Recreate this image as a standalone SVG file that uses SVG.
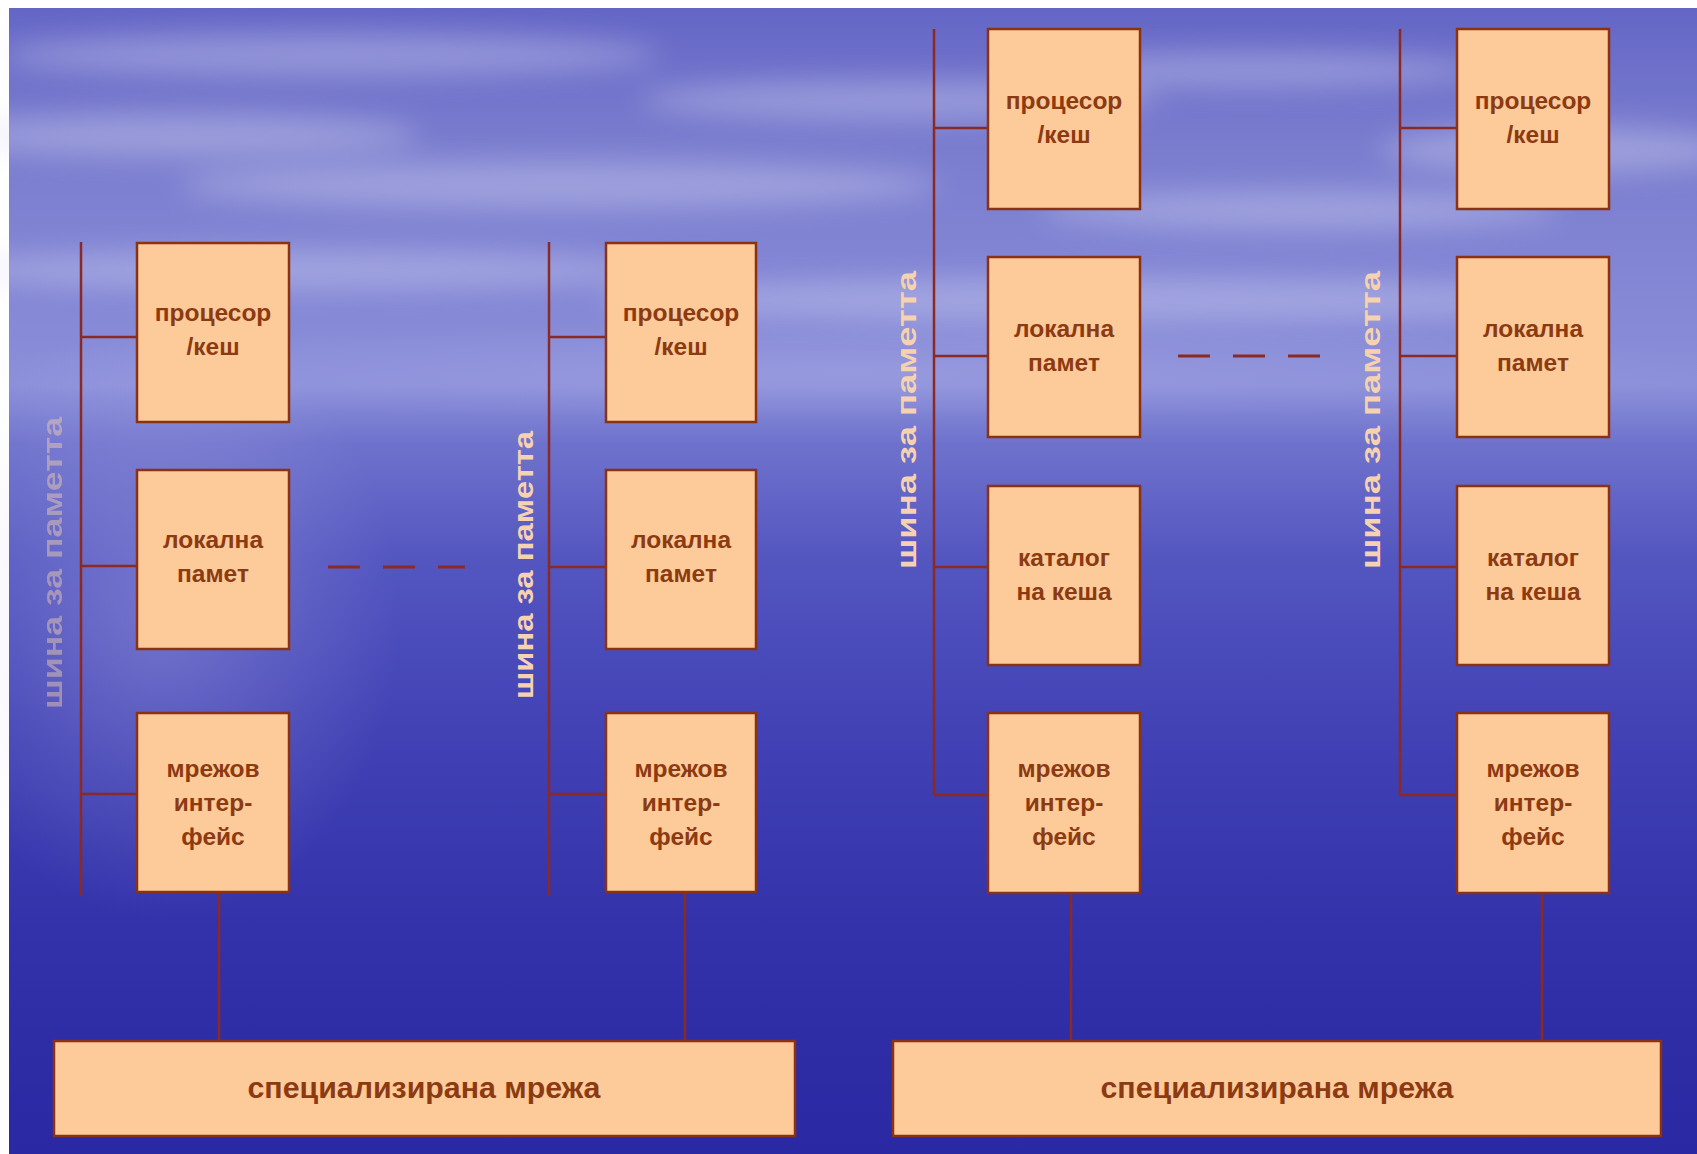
<svg xmlns="http://www.w3.org/2000/svg" width="1697" height="1154" viewBox="0 0 1697 1154">
<defs>
<linearGradient id="bg" x1="0" y1="0" x2="0" y2="1">
<stop offset="0" stop-color="#6466c6"/>
<stop offset="0.12" stop-color="#7a7dce"/>
<stop offset="0.27" stop-color="#8589d6"/>
<stop offset="0.33" stop-color="#8c90da"/>
<stop offset="0.38" stop-color="#6f72cc"/>
<stop offset="0.48" stop-color="#5456c0"/>
<stop offset="0.62" stop-color="#4343b6"/>
<stop offset="0.8" stop-color="#3332aa"/>
<stop offset="1" stop-color="#2a28a2"/>
</linearGradient>
<radialGradient id="glow" cx="0.5" cy="0.5" r="0.5">
<stop offset="0" stop-color="#c8c8f0" stop-opacity="0.3"/>
<stop offset="1" stop-color="#c8c8f0" stop-opacity="0"/>
</radialGradient>
<filter id="soft" x="-50%" y="-50%" width="200%" height="200%"><feGaussianBlur stdDeviation="14"/></filter>
<style>
.box{fill:#fdca9a;stroke:#8a3214;stroke-width:2.5}
.lbl{font-family:"Liberation Sans",Arial,sans-serif;font-weight:bold;font-size:24.5px;fill:#8c3a12;text-anchor:middle}
.net{font-family:"Liberation Sans",Arial,sans-serif;font-weight:bold;font-size:29px;fill:#8c3a12;text-anchor:middle}
.bus{font-family:"Liberation Sans",Arial,sans-serif;font-weight:bold;font-size:28px;fill:#f6d2b0;text-anchor:middle}
.ln{stroke:#8a2a22;stroke-width:2.5;fill:none}
.dash{stroke:#8a2a22;stroke-width:3;stroke-dasharray:32 23;fill:none}
</style>
</defs>
<rect x="0" y="0" width="1697" height="1154" fill="#ffffff"/>
<rect x="9" y="8" width="1688" height="1146" fill="url(#bg)"/>
<g filter="url(#soft)" fill="#dcdcf4" opacity="0.35">
<ellipse cx="330" cy="55" rx="330" ry="22"/>
<ellipse cx="180" cy="135" rx="240" ry="22"/>
<ellipse cx="560" cy="185" rx="380" ry="24"/>
<ellipse cx="900" cy="100" rx="260" ry="20"/>
<ellipse cx="1250" cy="70" rx="230" ry="18"/>
<ellipse cx="1560" cy="150" rx="180" ry="24"/>
<ellipse cx="1300" cy="210" rx="260" ry="20"/>
<ellipse cx="300" cy="270" rx="360" ry="20"/>
<ellipse cx="1100" cy="300" rx="500" ry="22"/>
</g>
<ellipse cx="160" cy="620" rx="240" ry="300" fill="url(#glow)"/>
<ellipse cx="850" cy="370" rx="900" ry="50" fill="url(#glow)" opacity="0.6"/>

<g id="connectors">
<path class="ln" d="M81 242V896M81 337H137M81 566H137M81 794H137M219 892V1041"/>
<path class="ln" d="M549 242V896M549 337H606M549 567H606M549 794H606M685 892V1041"/>
<path class="ln" d="M934 29V795M934 128H988M934 356H988M934 567H988M934 795H988M1071 893V1041"/>
<path class="ln" d="M1400 29V795M1400 128H1457M1400 356H1457M1400 567H1457M1400 795H1457M1542 893V1041"/>
<path class="dash" d="M328 567H465"/>
<path class="dash" d="M1178 356H1322"/>
</g>

<g id="bus-labels">
<text class="bus" opacity="0.45" transform="translate(62 563) rotate(-90)" textLength="292" lengthAdjust="spacingAndGlyphs">шина за паметта</text>
<text class="bus" transform="translate(533 565) rotate(-90)" textLength="268" lengthAdjust="spacingAndGlyphs">шина за паметта</text>
<text class="bus" transform="translate(916 420) rotate(-90)" textLength="298" lengthAdjust="spacingAndGlyphs">шина за паметта</text>
<text class="bus" transform="translate(1380 420) rotate(-90)" textLength="298" lengthAdjust="spacingAndGlyphs">шина за паметта</text>
</g>

<g id="g1-cpu"><rect class="box" x="137" y="243" width="152" height="179"/><text class="lbl" x="213" y="321">процесор</text><text class="lbl" x="213" y="355">/кеш</text></g>
<g id="g1-mem"><rect class="box" x="137" y="470" width="152" height="179"/><text class="lbl" x="213" y="548">локална</text><text class="lbl" x="213" y="582">памет</text></g>
<g id="g1-nic"><rect class="box" x="137" y="713" width="152" height="179"/><text class="lbl" x="213" y="777">мрежов</text><text class="lbl" x="213" y="811">интер-</text><text class="lbl" x="213" y="845">фейс</text></g>

<g id="g2-cpu"><rect class="box" x="606" y="243" width="150" height="179"/><text class="lbl" x="681" y="321">процесор</text><text class="lbl" x="681" y="355">/кеш</text></g>
<g id="g2-mem"><rect class="box" x="606" y="470" width="150" height="179"/><text class="lbl" x="681" y="548">локална</text><text class="lbl" x="681" y="582">памет</text></g>
<g id="g2-nic"><rect class="box" x="606" y="713" width="150" height="179"/><text class="lbl" x="681" y="777">мрежов</text><text class="lbl" x="681" y="811">интер-</text><text class="lbl" x="681" y="845">фейс</text></g>

<g id="g3-cpu"><rect class="box" x="988" y="29" width="152" height="180"/><text class="lbl" x="1064" y="109">процесор</text><text class="lbl" x="1064" y="143">/кеш</text></g>
<g id="g3-mem"><rect class="box" x="988" y="257" width="152" height="180"/><text class="lbl" x="1064" y="337">локална</text><text class="lbl" x="1064" y="371">памет</text></g>
<g id="g3-dir"><rect class="box" x="988" y="486" width="152" height="179"/><text class="lbl" x="1064" y="566">каталог</text><text class="lbl" x="1064" y="600">на кеша</text></g>
<g id="g3-nic"><rect class="box" x="988" y="713" width="152" height="180"/><text class="lbl" x="1064" y="777">мрежов</text><text class="lbl" x="1064" y="811">интер-</text><text class="lbl" x="1064" y="845">фейс</text></g>

<g id="g4-cpu"><rect class="box" x="1457" y="29" width="152" height="180"/><text class="lbl" x="1533" y="109">процесор</text><text class="lbl" x="1533" y="143">/кеш</text></g>
<g id="g4-mem"><rect class="box" x="1457" y="257" width="152" height="180"/><text class="lbl" x="1533" y="337">локална</text><text class="lbl" x="1533" y="371">памет</text></g>
<g id="g4-dir"><rect class="box" x="1457" y="486" width="152" height="179"/><text class="lbl" x="1533" y="566">каталог</text><text class="lbl" x="1533" y="600">на кеша</text></g>
<g id="g4-nic"><rect class="box" x="1457" y="713" width="152" height="180"/><text class="lbl" x="1533" y="777">мрежов</text><text class="lbl" x="1533" y="811">интер-</text><text class="lbl" x="1533" y="845">фейс</text></g>

<g id="net-left"><rect class="box" x="54" y="1041" width="741" height="95"/><text class="net" x="424" y="1098" textLength="353" lengthAdjust="spacingAndGlyphs">специализирана мрежа</text></g>
<g id="net-right"><rect class="box" x="893" y="1041" width="768" height="95"/><text class="net" x="1277" y="1098" textLength="353" lengthAdjust="spacingAndGlyphs">специализирана мрежа</text></g>
</svg>
